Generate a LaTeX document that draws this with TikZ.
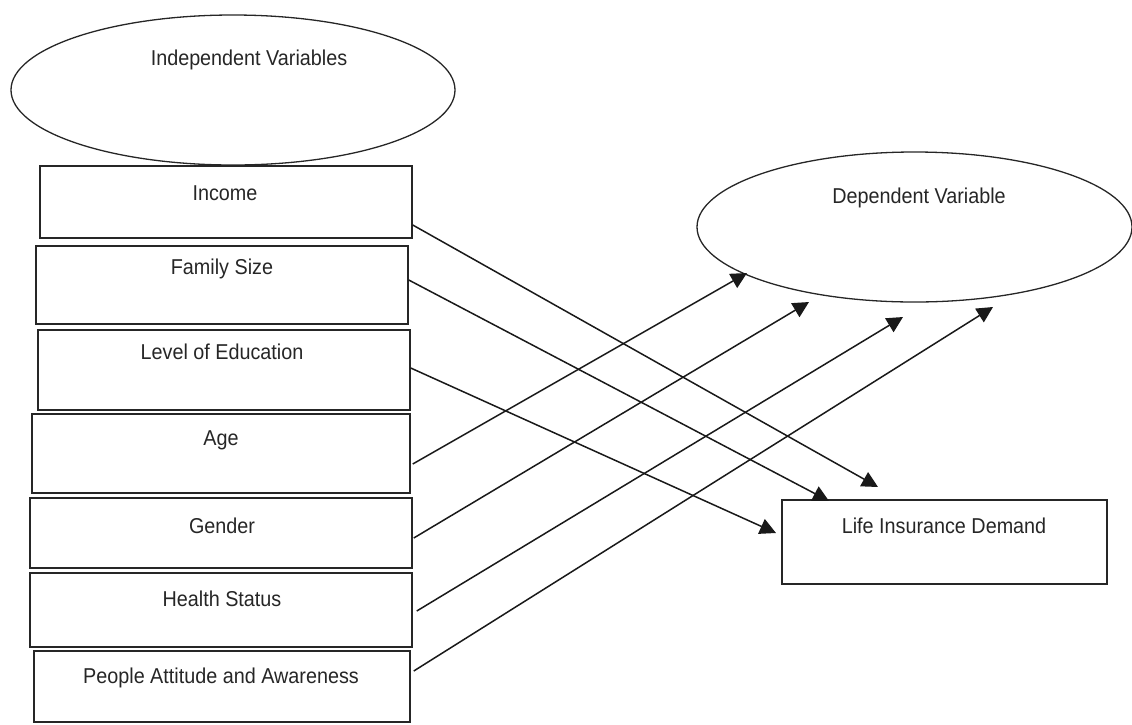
\documentclass[tikz,border=0pt]{standalone}
\usepackage{fontspec}
\setmainfont[FakeStretch=0.92]{Liberation Sans}
\usetikzlibrary{arrows.meta,shapes.geometric}
\begin{document}
\begin{tikzpicture}[x=1pt,y=-1pt,
  box/.style={draw=black!85,line width=1.5pt,rectangle,inner sep=0pt},
  oval/.style={draw=black!85,line width=1.3pt,ellipse,inner sep=0pt},
  txt/.style={anchor=base,inner sep=0pt,text=black!85,font=\fontsize{21.5}{25}\selectfont},
  arr/.style={draw=black!90,line width=1.5pt,-{Triangle[length=16pt,width=16pt]}}]
\useasboundingbox (0,0) rectangle (1132,724);
% ellipses
\node[oval,minimum width=444pt,minimum height=150pt] (iv) at (233,90) {};
\node[txt] (ivt) at (249,65) {Independent Variables};
\node[oval,minimum width=435pt,minimum height=150pt] (dv) at (914.5,227) {};
\node[txt] (dvt) at (919,203) {Dependent Variable};
% left boxes
\node[box,minimum width=372pt,minimum height=72pt] (income) at (226,202) {};
\node[txt] at (225,200) {Income};
\node[box,minimum width=372pt,minimum height=78pt] (family) at (222,285) {};
\node[txt] at (222,274) {Family Size};
\node[box,minimum width=372pt,minimum height=80pt] (edu) at (224,370) {};
\node[txt] at (222,359) {Level of Education};
\node[box,minimum width=378pt,minimum height=79pt] (age) at (221,453.5) {};
\node[txt] at (221,445) {Age};
\node[box,minimum width=382pt,minimum height=70pt] (gender) at (221,533) {};
\node[txt] at (222,533) {Gender};
\node[box,minimum width=382pt,minimum height=74pt] (health) at (221,610) {};
\node[txt] at (222,606) {Health Status};
\node[box,minimum width=376pt,minimum height=71pt] (people) at (222,686.5) {};
\node[txt] at (221,683) {People Attitude and Awareness};
% right box
\node[box,minimum width=325pt,minimum height=84pt] (lid) at (944.5,542) {};
\node[txt] at (944,533) {Life Insurance Demand};
% free arrow ends
\coordinate (t1) at (878,487);
\coordinate (t2) at (829,501);
\coordinate (t3) at (776,533);
\coordinate (t4) at (747,273);
\coordinate (t5) at (809,302);
\coordinate (t6) at (903,317);
\coordinate (t7) at (993,307);
% arrows
\draw[arr] ([yshift=-23pt]income.east) -- (t1);
\draw[arr] ([yshift=5pt]family.east) -- (t2);
\draw[arr] ([yshift=2pt]edu.east) -- (t3);
\draw[arr] ([xshift=2pt,yshift=-10.5pt]age.east) -- (t4);
\draw[arr] ([xshift=1pt,yshift=-5pt]gender.east) -- (t5);
\draw[arr] ([xshift=4pt,yshift=-1pt]health.east) -- (t6);
\draw[arr] ([xshift=3pt,yshift=15.5pt]people.east) -- (t7);
\end{tikzpicture}
\end{document}
